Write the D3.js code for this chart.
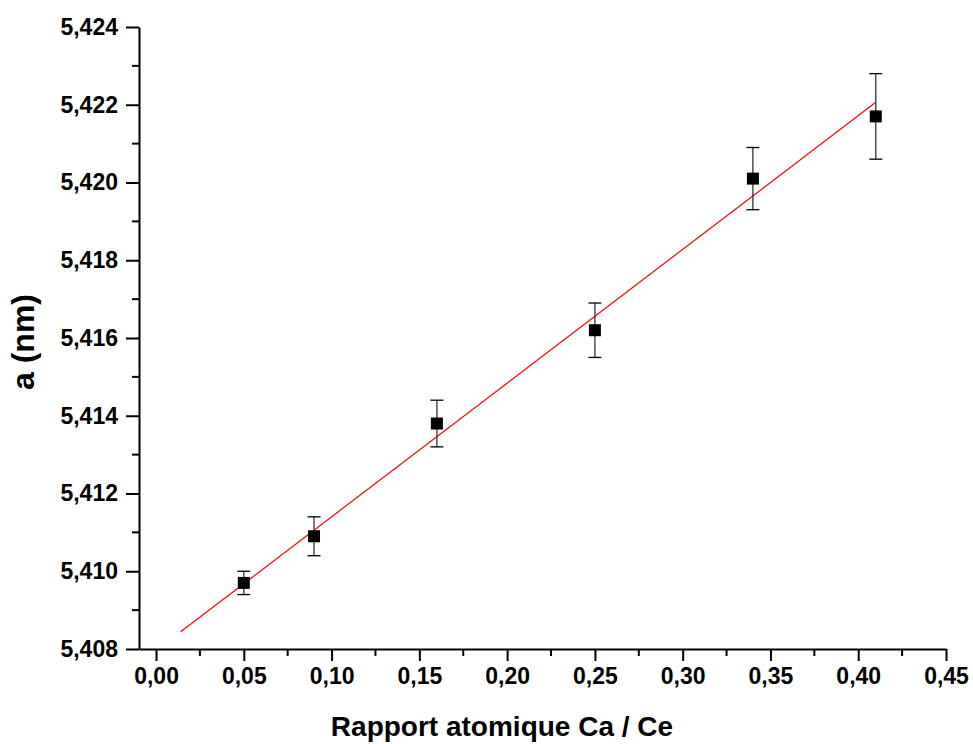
<!DOCTYPE html>
<html>
<head>
<meta charset="utf-8">
<script src="https://cdn.jsdelivr.net/npm/d3@7"></script>
<style>
  body { margin: 0; background: #fff; }
  svg { display: block; }
</style>
</head>
<body>
<svg></svg>
<script>
// rapport Ca/Ce, parametre de maille a (nm) et erreur
var ratio = [0.05, 0.09, 0.16, 0.25, 0.34, 0.41];
var param = [5.4097, 5.4109, 5.4138, 5.4162, 5.4201, 5.4217];
var errs = [0.0003, 0.0005, 0.0006, 0.0007, 0.0008, 0.0011];

// droite de regression
var fitRange = [0.014, 0.41];
var fitIntercept = 5.40796;
var fitSlope = 0.0344;

var xTicks = [0, 0.05, 0.10, 0.15, 0.20, 0.25, 0.30, 0.35, 0.40, 0.45];
var yTicks = [5.408, 5.410, 5.412, 5.414, 5.416, 5.418, 5.420, 5.422, 5.424];

var data = ratio.map((r, i) => ({ x: r, y: param[i], e: errs[i] }));

const svgWidth = 973, svgHeight = 744;

var svg = d3.select('svg')
    .attr("width", svgWidth)
    .attr("height", svgHeight);

var x = d3.scaleLinear()
    .domain([-0.0097, 0.45])
    .range([139, 946]);

var y = d3.scaleLinear()
    .domain([5.408, 5.424])
    .range([649, 27]);

var fmt = d => d3.format(".2f")(d).replace(".", ",");
var fmtY = d => d3.format(".3f")(d).replace(".", ",");

// minor ticks
var xMinor = d3.range(0.025, 0.45, 0.05);
var yMinor = d3.range(5.409, 5.424, 0.002);

svg.append("g").selectAll("line")
    .data(xMinor)
    .enter().append("line")
    .attr("x1", d => x(d)).attr("x2", d => x(d))
    .attr("y1", 649).attr("y2", 656)
    .attr("stroke", "#000").attr("stroke-width", 2);

svg.append("g").selectAll("line")
    .data(yMinor)
    .enter().append("line")
    .attr("x1", 132).attr("x2", 139)
    .attr("y1", d => y(d)).attr("y2", d => y(d))
    .attr("stroke", "#000").attr("stroke-width", 2);

var xAxis = d3.axisBottom(x)
    .tickValues(xTicks)
    .tickFormat(fmt)
    .tickSize(12)
    .tickSizeOuter(0)
    .tickPadding(7);

var yAxis = d3.axisLeft(y)
    .tickValues(yTicks)
    .tickFormat(fmtY)
    .tickSize(13)
    .tickSizeOuter(0)
    .tickPadding(8);

svg.append("g")
    .attr("transform", "translate(0,649)")
    .call(xAxis);

svg.append("g")
    .attr("transform", "translate(139,0)")
    .call(yAxis);

svg.selectAll(".domain, .tick line")
    .attr("stroke", "#000")
    .attr("stroke-width", 2);

svg.selectAll(".tick text")
    .attr("font-size", 23)
    .attr("font-weight", "bold")
    .attr("font-family", "Liberation Sans, Arial, sans-serif")
    .attr("fill", "#000");

// fit line
svg.append("line")
    .attr("x1", x(fitRange[0]))
    .attr("y1", y(fitIntercept + fitSlope * fitRange[0]))
    .attr("x2", x(fitRange[1]))
    .attr("y2", y(fitIntercept + fitSlope * fitRange[1]))
    .attr("stroke", "#ff0000")
    .attr("stroke-width", 1.2);

// error bars
var eb = svg.append("g").selectAll("g")
    .data(data)
    .enter().append("g");

eb.append("line")
    .attr("x1", d => x(d.x)).attr("x2", d => x(d.x))
    .attr("y1", d => y(d.y - d.e)).attr("y2", d => y(d.y + d.e))
    .attr("stroke", "#333").attr("stroke-width", 1.3);

eb.selectAll(".cap")
    .data(d => [[d.x, d.y - d.e], [d.x, d.y + d.e]])
    .enter().append("line")
    .attr("x1", d => x(d[0]) - 6.5).attr("x2", d => x(d[0]) + 6.5)
    .attr("y1", d => y(d[1])).attr("y2", d => y(d[1]))
    .attr("stroke", "#000").attr("stroke-width", 1.3);

// points
svg.append("g").selectAll("rect")
    .data(data)
    .enter().append("rect")
    .attr("x", d => x(d.x) - 6)
    .attr("y", d => y(d.y) - 6)
    .attr("width", 12)
    .attr("height", 12)
    .attr("fill", "#000");

// axis titles
svg.append("text")
    .attr("x", 502)
    .attr("y", 736)
    .attr("text-anchor", "middle")
    .attr("font-size", 28)
    .attr("font-weight", "bold")
    .attr("font-family", "Liberation Sans, Arial, sans-serif")
    .text("Rapport atomique Ca / Ce");

svg.append("text")
    .attr("transform", "translate(34,342) rotate(-90)")
    .attr("text-anchor", "middle")
    .attr("font-size", 32)
    .attr("font-weight", "bold")
    .attr("font-family", "Liberation Sans, Arial, sans-serif")
    .text("a (nm)");
</script>
</body>
</html>
